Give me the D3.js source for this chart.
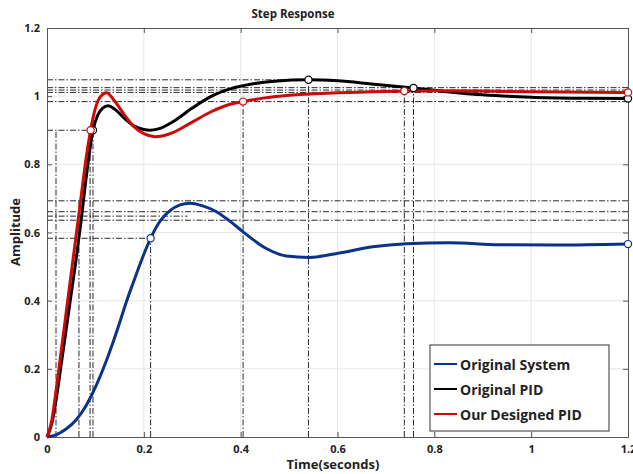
<!DOCTYPE html>
<html>
<head>
<meta charset="utf-8">
<script src="https://cdn.jsdelivr.net/npm/d3@7"></script>
<style>
  html, body { margin: 0; padding: 0; background: #fff; }
  svg { display: block; }
  text { font-family: "Open Sans", "DejaVu Sans", sans-serif; font-weight: bold; fill: #222; }
</style>
</head>
<body>
<svg id="chart" width="633" height="474"></svg>
<script>
// Step response of the three systems (time in seconds, amplitude)
const timeSystem = [0, 0.02, 0.04, 0.06, 0.08, 0.1, 0.12, 0.137, 0.15, 0.164, 0.18, 0.195, 0.214, 0.235, 0.254, 0.275, 0.295, 0.32, 0.35, 0.377, 0.405, 0.453, 0.494, 0.542, 0.604, 0.673, 0.742, 0.831, 0.934, 1.05, 1.2];
const ampSystem  = [0, 0.007, 0.024, 0.05, 0.09, 0.146, 0.214, 0.28, 0.335, 0.397, 0.46, 0.518, 0.583, 0.636, 0.664, 0.681, 0.686, 0.679, 0.661, 0.634, 0.602, 0.553, 0.531, 0.527, 0.540, 0.558, 0.567, 0.570, 0.564, 0.563, 0.566];

const timePID = [0, 0.01, 0.02, 0.03, 0.04, 0.05, 0.06, 0.07, 0.08, 0.095, 0.105, 0.115, 0.126, 0.14, 0.16, 0.18, 0.2, 0.212, 0.23, 0.26, 0.3, 0.34, 0.38, 0.42, 0.47, 0.54, 0.6, 0.67, 0.757, 0.82, 0.9, 1.0, 1.1, 1.2];
const ampPID  = [0, 0.04, 0.12, 0.22, 0.32, 0.42, 0.52, 0.63, 0.75, 0.9, 0.945, 0.965, 0.972, 0.962, 0.935, 0.912, 0.902, 0.9, 0.904, 0.925, 0.965, 1.0, 1.022, 1.035, 1.044, 1.048, 1.045, 1.036, 1.024, 1.014, 1.004, 0.997, 0.994, 0.993];

const timeDesigned = [0, 0.01, 0.02, 0.03, 0.04, 0.05, 0.06, 0.07, 0.08, 0.09, 0.1, 0.11, 0.123, 0.14, 0.16, 0.18, 0.2, 0.223, 0.24, 0.26, 0.3, 0.34, 0.38, 0.405, 0.45, 0.5, 0.6, 0.7, 0.738, 0.8, 0.9, 1.0, 1.2];
const ampDesigned  = [0, 0.05, 0.15, 0.26, 0.37, 0.48, 0.59, 0.70, 0.81, 0.9, 0.965, 0.998, 1.01, 0.985, 0.945, 0.91, 0.89, 0.881, 0.884, 0.893, 0.924, 0.955, 0.977, 0.984, 0.995, 1.003, 1.01, 1.014, 1.015, 1.016, 1.015, 1.013, 1.011];

// Characteristic points marked on each response (times taken from the series above)
const markSystem = [0.214, 1.2];
const markPID = [0.095, 0.54, 0.757, 1.2];
const markDesigned = [0.09, 0.405, 0.738, 1.2];

// Dash-dot guide lines: horizontal [amplitude, end time], vertical [time, top amplitude]
const guideH = [[1.048, 0.54], [1.025, 1.2], [1.018, 1.2], [1.011, 1.2], [0.984, 1.2], [0.9, 0.095],
                [0.693, 1.2], [0.661, 1.2], [0.648, 0.29], [0.636, 1.2], [0.583, 0.214]];
const guideV = [[0.0186, 0.9], [0.066, 0.693], [0.089, 0.9], [0.095, 0.9], [0.214, 0.583],
                [0.405, 0.984], [0.54, 1.048], [0.738, 1.015], [0.757, 1.024]];

const xTicks = [0, 0.2, 0.4, 0.6, 0.8, 1, 1.2];
const yTicks = [0, 0.2, 0.4, 0.6, 0.8, 1, 1.2];
const seriesNames = ["Original System", "Original PID", "Our Designed PID"];
const seriesColors = ["#0b3388", "#000000", "#cc0a0a"];

const svg = d3.select("#chart");
const M = { left: 47, right: 628, top: 28, bottom: 437 };
const x = d3.scaleLinear().domain([0, 1.2]).range([M.left, M.right]);
const y = d3.scaleLinear().domain([0, 1.2]).range([M.bottom, M.top]);

// grid
const grid = svg.append("g");
grid.selectAll("line.gx").data(xTicks.slice(1, -1)).join("line")
  .attr("x1", d => x(d)).attr("x2", d => x(d)).attr("y1", M.top).attr("y2", M.bottom)
  .attr("stroke", "#e6e6e6").attr("stroke-width", 1);
grid.selectAll("line.gy").data(yTicks.slice(1, -1)).join("line")
  .attr("x1", M.left).attr("x2", M.right).attr("y1", d => y(d)).attr("y2", d => y(d))
  .attr("stroke", "#e6e6e6").attr("stroke-width", 1);

// guide lines
const dash = "6,2,1.5,2";
const guides = svg.append("g").attr("stroke", "#2a2a2a").attr("stroke-width", 1).attr("stroke-dasharray", dash);
guides.selectAll("line.h").data(guideH).join("line")
  .attr("x1", M.left).attr("x2", d => x(d[1])).attr("y1", d => y(d[0])).attr("y2", d => y(d[0]));
guides.selectAll("line.v").data(guideV).join("line")
  .attr("x1", d => x(d[0])).attr("x2", d => x(d[0])).attr("y1", M.bottom).attr("y2", d => y(d[1]));

// axes
const axB = svg.append("g").attr("transform", `translate(0,${M.bottom})`)
  .call(d3.axisBottom(x).tickValues(xTicks).tickSize(-5).tickPadding(8).tickFormat(d3.format("~g")));
const axL = svg.append("g").attr("transform", `translate(${M.left},0)`)
  .call(d3.axisLeft(y).tickValues(yTicks).tickSize(-5).tickPadding(7).tickFormat(d3.format("~g")));
const axT = svg.append("g").attr("transform", `translate(0,${M.top})`)
  .call(d3.axisTop(x).tickValues(xTicks).tickSize(-5).tickFormat(""));
const axR = svg.append("g").attr("transform", `translate(${M.right},0)`)
  .call(d3.axisRight(y).tickValues(yTicks).tickSize(-5).tickFormat(""));
[axB, axL, axT, axR].forEach(a => {
  a.select(".domain").attr("stroke", "#555");
  a.selectAll(".tick line").attr("stroke", "#555");
  a.selectAll("text").attr("font-size", 11).attr("fill", "#222")
    .attr("font-family", "'Open Sans', sans-serif").attr("font-weight", "bold");
});

// responses
const line = d3.line().x(d => x(d[0])).y(d => y(d[1])).curve(d3.curveMonotoneX);
const series = [
  { t: timeSystem, a: ampSystem, m: markSystem },
  { t: timePID, a: ampPID, m: markPID },
  { t: timeDesigned, a: ampDesigned, m: markDesigned }
];
series.forEach((s, i) => {
  const pts = s.t.map((t, k) => [t, s.a[k]]);
  svg.append("path").datum(pts).attr("d", line)
    .attr("fill", "none").attr("stroke", seriesColors[i]).attr("stroke-width", 3)
    .attr("stroke-linejoin", "round");
});
// markers drawn on top of all curves
series.forEach((s, i) => {
  const pts = s.m.map(t => [t, s.a[s.t.indexOf(t)]]);
  svg.append("g").selectAll("circle").data(pts).join("circle")
    .attr("cx", d => x(d[0])).attr("cy", d => y(d[1])).attr("r", 3.6)
    .attr("fill", "#fff").attr("stroke", seriesColors[i]).attr("stroke-width", 1.2);
});

// titles
svg.append("text").attr("x", 293).attr("y", 18).attr("text-anchor", "middle")
  .attr("font-size", 11.5).text("Step Response");
svg.append("text").attr("x", 333).attr("y", 469).attr("text-anchor", "middle")
  .attr("font-size", 13).text("Time(seconds)");
svg.append("text").attr("transform", "translate(20,232) rotate(-90)").attr("text-anchor", "middle")
  .attr("font-size", 13).text("Amplitude");

// legend
const lg = svg.append("g").attr("transform", "translate(430,345)");
lg.append("rect").attr("width", 179).attr("height", 86).attr("fill", "#fff")
  .attr("stroke", "#333").attr("stroke-width", 1);
seriesNames.forEach((name, i) => {
  const yy = 20 + i * 25;
  lg.append("line").attr("x1", 4).attr("x2", 27).attr("y1", yy - 1).attr("y2", yy - 1)
    .attr("stroke", seriesColors[i]).attr("stroke-width", 2);
  lg.append("text").attr("x", 30).attr("y", yy + 5).attr("font-size", 14).text(name);
});
</script>
</body>
</html>
